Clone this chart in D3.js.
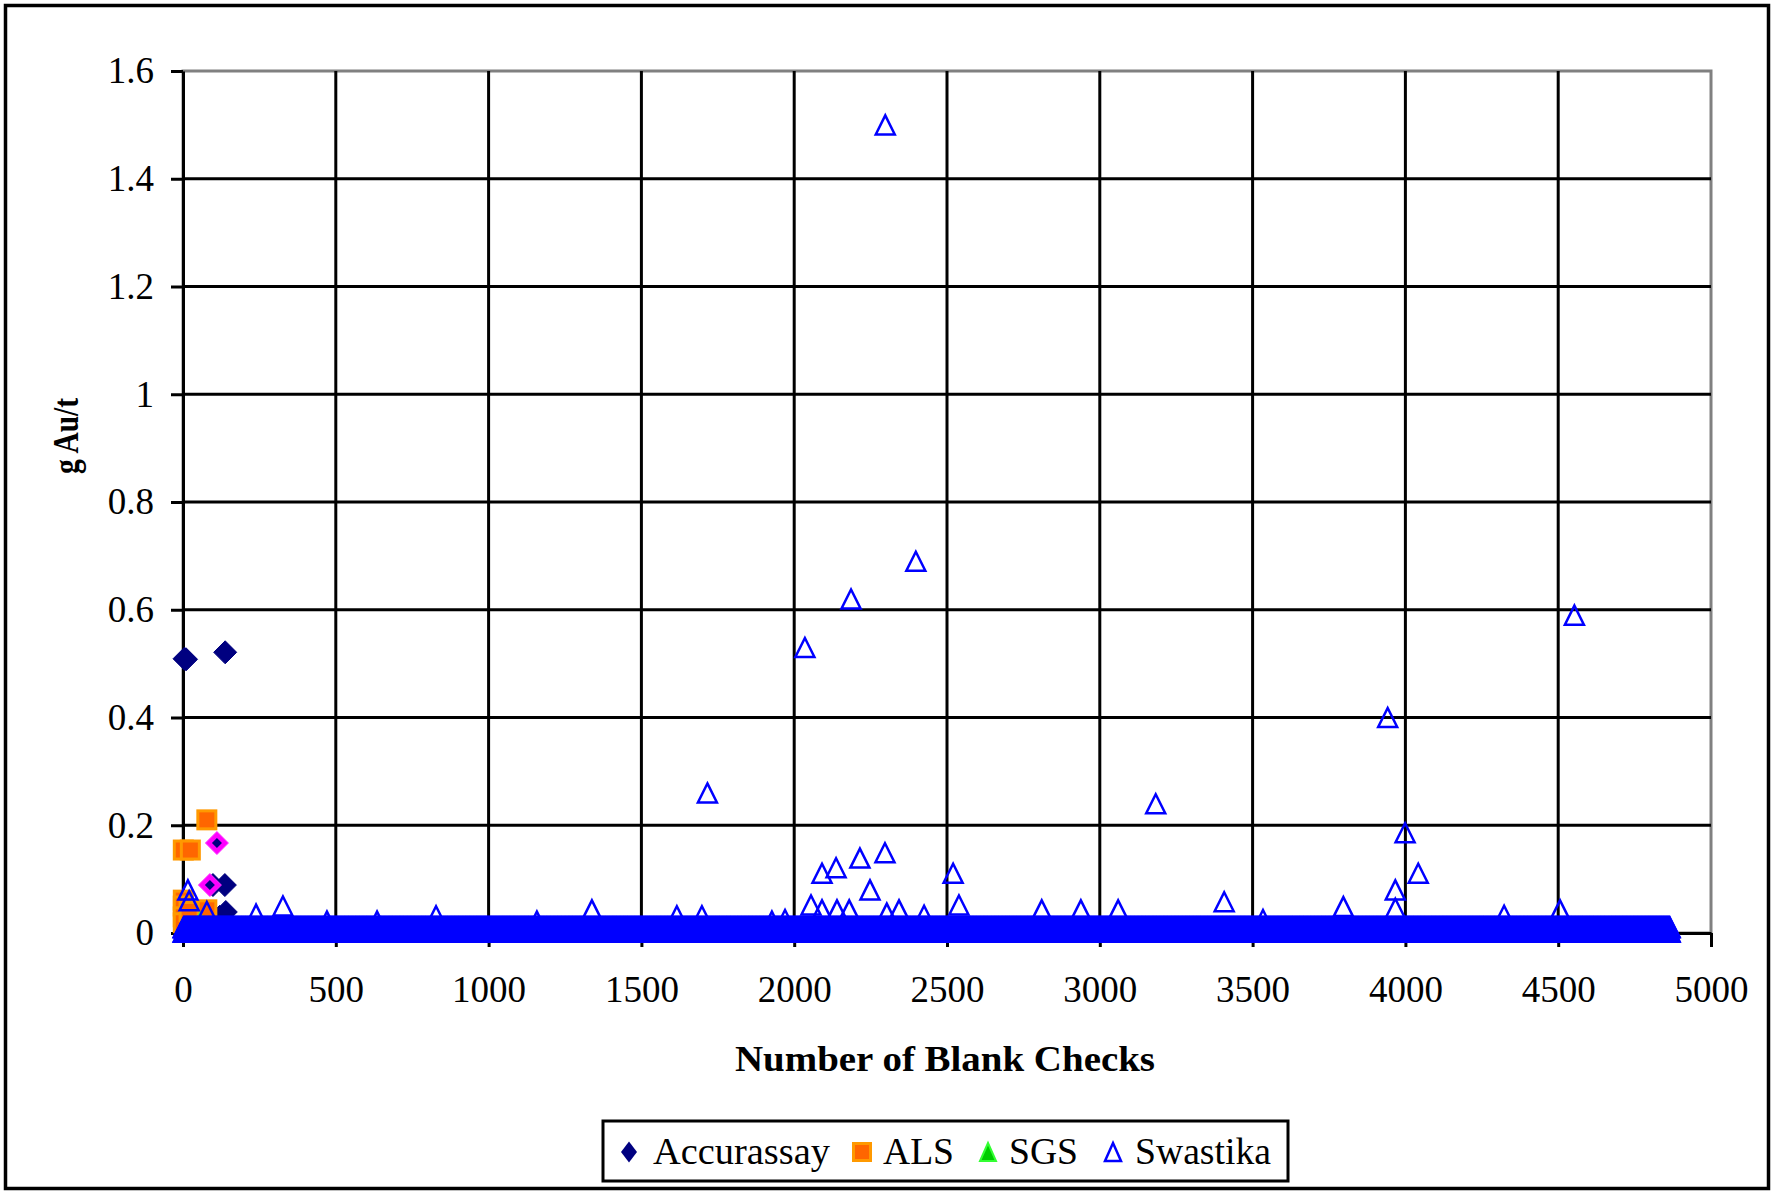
<!DOCTYPE html>
<html>
<head>
<meta charset="utf-8">
<script src="https://cdn.jsdelivr.net/npm/d3@7"></script>
<style>
  html, body { margin: 0; padding: 0; background: #fff; }
  svg { display: block; }
  text { font-family: "Liberation Serif", "Times New Roman", serif; fill: #000; }
</style>
</head>
<body>
<svg id="chart" width="1775" height="1193"></svg>
<script>
// ---------------- DATA ----------------
const seriesNames = ["Accurassay", "ALS", "SGS", "Swastika"];
const xTicks = [0, 500, 1000, 1500, 2000, 2500, 3000, 3500, 4000, 4500, 5000];
const xTickLabels = ["0", "500", "1000", "1500", "2000", "2500", "3000", "3500", "4000", "4500", "5000"];
const yTicks = [0, 0.2, 0.4, 0.6, 0.8, 1.0, 1.2, 1.4, 1.6];
const yTickLabels = ["0", "0.2", "0.4", "0.6", "0.8", "1", "1.2", "1.4", "1.6"];

// [check number, g Au/t]
const accurassay = [[5, 0.509], [10, 0.508], [138, 0.521], [98, 0.089], [137, 0.089],
  [140, 0.039], [128, 0.025], [120, 0.03]];
const accurassayFlagged = [[111, 0.167], [88, 0.089]];
const als = [[78, 0.21], [1, 0.154], [24, 0.154], [78, 0.043], [1, 0.061], [1, 0.05],
  [1, 0.03], [1, 0.019], [20, 0.04]];
const sgs = [[56, 0.02], [50, 0.01]];
// Swastika: blanks at/below detection limit, as runs [fromCheck, toCheck, g Au/t]
const swastikaBaselineRuns = [[1, 4866, 0.010], [1, 4866, 0.002]];
// Swastika: individual results above the baseline
const swastika = [[2298, 1.50], [2398, 0.69], [2186, 0.62], [2035, 0.53], [4553, 0.59],
  [3942, 0.40], [1716, 0.26], [3183, 0.24], [3999, 0.186], [4042, 0.111], [3967, 0.08],
  [3967, 0.046], [3407, 0.058], [3797, 0.049], [2520, 0.111], [2539, 0.052], [2091, 0.111],
  [2137, 0.121], [2215, 0.139], [2297, 0.149], [2248, 0.08], [2055, 0.052], [2091, 0.043],
  [2140, 0.043], [2180, 0.043], [2303, 0.037], [2343, 0.043], [2425, 0.033], [1970, 0.025],
  [2810, 0.043], [2938, 0.043], [3060, 0.043], [3534, 0.025], [4506, 0.043], [4323, 0.033],
  [471, 0.022], [635, 0.022], [828, 0.032], [1158, 0.022], [1338, 0.043], [1616, 0.032],
  [1698, 0.032], [1927, 0.022], [16, 0.08], [20, 0.06], [78, 0.04], [327, 0.05], [239, 0.035]];

// ---------------- LAYOUT ----------------
const svg = d3.select("#chart");
const X0 = 183, X1 = 1711, Y0 = 933, Y1 = 71;
const x = d3.scaleLinear().domain([0, 5000]).range([X0, X1]);
const y = d3.scaleLinear().domain([0, 1.6]).range([Y0, Y1]);

svg.append("rect").attr("width", 1775).attr("height", 1193).attr("fill", "#fff");
// outer border
svg.append("rect").attr("x", 5.5).attr("y", 5.5).attr("width", 1763).attr("height", 1183)
  .attr("fill", "none").attr("stroke", "#000").attr("stroke-width", 3.5);

// plot area border (gray)
svg.append("rect").attr("x", X0).attr("y", Y1).attr("width", X1 - X0).attr("height", Y0 - Y1)
  .attr("fill", "none").attr("stroke", "#808080").attr("stroke-width", 3);

// gridlines
svg.append("g").selectAll("line").data(yTicks.filter(d => d > 0 && d < 1.6)).join("line")
  .attr("x1", X0).attr("x2", X1).attr("y1", d => y(d)).attr("y2", d => y(d))
  .attr("stroke", "#000").attr("stroke-width", 3);
svg.append("g").selectAll("line").data(xTicks.filter(d => d > 0 && d < 5000)).join("line")
  .attr("x1", d => x(d)).attr("x2", d => x(d)).attr("y1", Y1).attr("y2", Y0)
  .attr("stroke", "#000").attr("stroke-width", 3);

// axes
const yAxis = d3.axisLeft(y).tickValues(yTicks).tickFormat((d, i) => yTickLabels[i])
  .tickSize(12).tickSizeOuter(0).tickPadding(17);
const gy = svg.append("g").attr("transform", `translate(${X0},0)`).call(yAxis);
const xAxis = d3.axisBottom(x).tickValues(xTicks).tickFormat((d, i) => xTickLabels[i])
  .tickSize(14).tickSizeOuter(0).tickPadding(29);
const gx = svg.append("g").attr("transform", `translate(0,${Y0})`).call(xAxis);
[gx, gy].forEach(g => {
  g.select(".domain").attr("stroke", "#000").attr("stroke-width", 3);
  g.selectAll(".tick line").attr("stroke", "#000").attr("stroke-width", 3);
  g.selectAll(".tick text").attr("font-family", "Liberation Serif").attr("font-size", 37).attr("fill", "#000");
});

// ---------------- MARKERS ----------------
const diamond = "M0,-11.5L11.5,0L0,11.5L-11.5,0Z";
const tri = "M0,-9.5L9.5,9.5L-9.5,9.5Z";
const marks = svg.append("g");

marks.append("g").selectAll("path").data(accurassay).join("path")
  .attr("d", diamond).attr("transform", d => `translate(${x(d[0])},${y(d[1])})`)
  .attr("fill", "#000080").attr("stroke", "#000080").attr("stroke-width", 1);
const fl = marks.append("g").selectAll("g").data(accurassayFlagged).join("g")
  .attr("transform", d => `translate(${x(d[0])},${y(d[1])})`);
fl.append("path").attr("d", diamond).attr("fill", "#FF00FF").attr("stroke", "#FF33FF").attr("stroke-width", 1);
fl.append("path").attr("d", "M0,-5L5,0L0,5L-5,0Z").attr("fill", "#000080");

marks.append("g").selectAll("rect").data(als).join("rect")
  .attr("x", d => x(d[0]) - 9).attr("y", d => y(d[1]) - 9).attr("width", 18).attr("height", 18)
  .attr("fill", "#FF6600").attr("stroke", "#FF9900").attr("stroke-width", 3);

marks.append("g").selectAll("path").data(sgs).join("path")
  .attr("d", tri).attr("transform", d => `translate(${x(d[0])},${y(d[1])})`)
  .attr("fill", "#00CC00").attr("stroke", "#33FF33").attr("stroke-width", 2);

// Swastika baseline (one marker per blank check in each run)
const baselinePts = [];
swastikaBaselineRuns.forEach(([a, b, v]) => { for (let c = a; c <= b; c++) baselinePts.push([c, v]); });
const sw = marks.append("g");
sw.selectAll("path.b").data(baselinePts).join("path").attr("class", "b")
  .attr("d", tri).attr("transform", d => `translate(${x(d[0])},${y(d[1])})`)
  .attr("fill", "none").attr("stroke", "#0000FF").attr("stroke-width", 2.5);
sw.selectAll("path.o").data(swastika).join("path").attr("class", "o")
  .attr("d", tri).attr("transform", d => `translate(${x(d[0])},${y(d[1])})`)
  .attr("fill", "none").attr("stroke", "#0000FF").attr("stroke-width", 2.5);

// ---------------- TITLES ----------------
svg.append("text").attr("x", 945).attr("y", 1071).attr("text-anchor", "middle")
  .attr("font-size", 35).attr("font-weight", "bold")
  .attr("textLength", 420).attr("lengthAdjust", "spacingAndGlyphs")
  .text("Number of Blank Checks");
svg.append("text").attr("transform", "translate(78,436) rotate(-90)").attr("text-anchor", "middle")
  .attr("font-size", 35).attr("font-weight", "bold")
  .attr("textLength", 76).attr("lengthAdjust", "spacingAndGlyphs")
  .text("g Au/t");

// ---------------- LEGEND ----------------
const lg = svg.append("g");
lg.append("rect").attr("x", 603).attr("y", 1121).attr("width", 685).attr("height", 60)
  .attr("fill", "#fff").attr("stroke", "#000").attr("stroke-width", 3);
const legendItems = [
  { name: seriesNames[0], mx: 629, tx: 653, tw: 177 },
  { name: seriesNames[1], mx: 862, tx: 883, tw: 71 },
  { name: seriesNames[2], mx: 988, tx: 1009, tw: 69 },
  { name: seriesNames[3], mx: 1113, tx: 1135, tw: 136 }
];
const my = 1152;
lg.append("path").attr("d", "M0,-10.5L8,0L0,10.5L-8,0Z").attr("transform", `translate(${legendItems[0].mx},${my})`)
  .attr("fill", "#000080");
lg.append("rect").attr("x", legendItems[1].mx - 8.5).attr("y", my - 8.5).attr("width", 17).attr("height", 17)
  .attr("fill", "#FF6600").attr("stroke", "#FF9900").attr("stroke-width", 3);
lg.append("path").attr("d", "M0,-9L8,9L-8,9Z").attr("transform", `translate(${legendItems[2].mx},${my})`)
  .attr("fill", "#00CC00").attr("stroke", "#33FF33").attr("stroke-width", 2);
lg.append("path").attr("d", "M0,-9L8,9L-8,9Z").attr("transform", `translate(${legendItems[3].mx},${my})`)
  .attr("fill", "#fff").attr("stroke", "#0000FF").attr("stroke-width", 2.5);
lg.selectAll("text").data(legendItems).join("text")
  .attr("x", d => d.tx).attr("y", 1164).attr("font-size", 38)
  .attr("textLength", d => d.tw).attr("lengthAdjust", "spacingAndGlyphs")
  .text(d => d.name);
</script>
</body>
</html>
